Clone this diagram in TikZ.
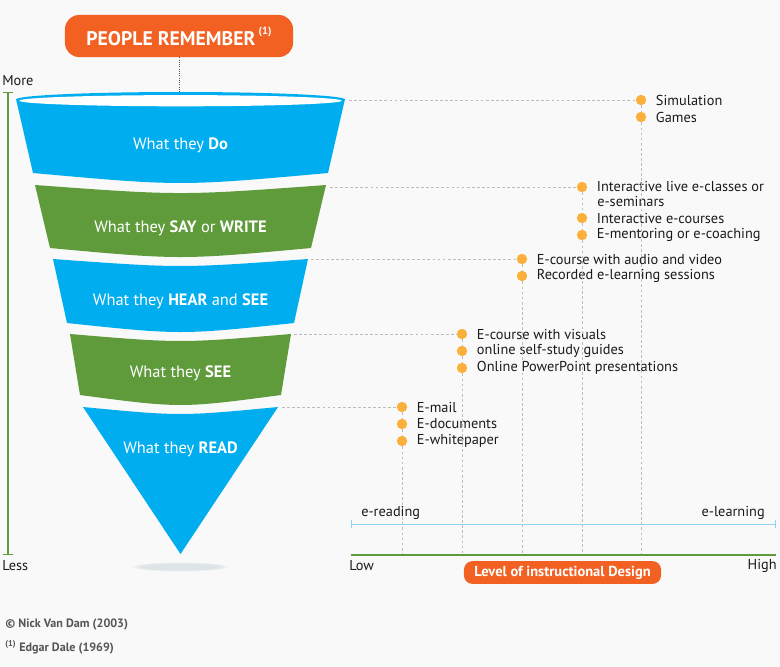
\documentclass[tikz,border=0pt]{standalone}
\usepackage{fontspec}
\setmainfont{PT Sans}
\usetikzlibrary{arrows.meta,positioning,calc}
\definecolor{sky}{HTML}{00AEEF}
\definecolor{leaf}{HTML}{5F9A3B}
\definecolor{flame}{HTML}{F26122}
\definecolor{amber}{HTML}{FBB03B}
\definecolor{guide}{HTML}{BDBDBD}
\definecolor{paper}{HTML}{F9F9F9}
\definecolor{mist}{HTML}{DCE3E6}
\definecolor{rule}{HTML}{8ED3F2}
\definecolor{ink}{HTML}{1A1A1A}
\definecolor{note}{HTML}{555555}

\begin{document}
\begin{tikzpicture}[x=.025cm,y=-.025cm,
  dot/.style={circle,fill=amber,inner sep=0pt,minimum size=.26cm},
  item/.style={anchor=west,inner sep=0pt,text=ink,font=\fontsize{10.2}{12}\selectfont},
  lbl/.style={text=white,inner sep=0pt,font=\fontsize{11.7}{14}\selectfont},
  gd/.style={guide,line width=.5pt,dash pattern=on 2pt off 1.6pt},
  foot/.style={anchor=west,inner sep=0pt,text=note,font=\bfseries\fontsize{8.6}{10}\selectfont}]
\path[use as bounding box,fill=paper] (0,0) rectangle (780,666);
\node[fill=flame,rounded corners=10pt,minimum width=5.7cm,minimum height=1.05cm,text=white,font=\bfseries\fontsize{14}{16}\selectfont] (title) at (179,36) {PEOPLE REMEMBER\,\raisebox{1.1ex}{\fontsize{7.5}{8}\selectfont(1)}};
\coordinate (rim) at (179,102);
\draw[densely dotted,note,line width=.6pt] (title) -- (rim);
\foreach \r/\o in {1.2/.3,1.1/.5,1/.7}{\fill[mist,opacity=\o] (180.5,567) ellipse [x radius=\r cm,y radius=.09*\r cm];}
\fill[sky] (16,99) -- (33,173) .. controls (180.5,186.3) .. (328,173) -- (345,99) -- cycle;
\fill[sky] (180.5,99.5) ellipse [x radius=4.1125cm,y radius=.1875cm];
\fill[white] (180.5,100.7) ellipse [x radius=4.03cm,y radius=.14cm];
\fill[leaf] (35,185) .. controls (180.5,195.7) .. (326,185) -- (311,248) .. controls (180.5,260) .. (50,248) -- cycle;
\fill[sky] (53,259) .. controls (180.5,268.3) .. (308,259) -- (294,323) .. controls (180.5,335) .. (67,323) -- cycle;
\fill[leaf] (70,334) .. controls (180.5,343.3) .. (291,334) -- (281,395) .. controls (180.5,408.3) .. (80,395) -- cycle;
\fill[sky] (83,407) .. controls (180.5,416.3) .. (278,407) -- (180.5,554) -- cycle;
\node[lbl] (do) at (180.5,145) {What they \textbf{Do}};
\node[lbl] (say) at (180.5,228) {What they \textbf{SAY} or \textbf{WRITE}};
\node[lbl] (hear) at (180.5,301) {What they \textbf{HEAR} and \textbf{SEE}};
\node[lbl] (see) at (180.5,373) {What they \textbf{SEE}};
\node[lbl] (read) at (180.5,449) {What they \textbf{READ}};
\foreach \n/\x/\y/\t in {s1/641/100/Simulation,s2/641/117/Games,
  i1/582/187/Interactive live e-classes or,i2/582/218/Interactive e-courses,i3/582/235/E-mentoring or e-coaching,
  a1/522/259/E-course with audio and video,a2/522/276/Recorded e-learning sessions,
  v1/462/334/E-course with visuals,v2/462/351/online self-study guides,v3/462/368/Online PowerPoint presentations,
  r1/402/407/E-mail,r2/402/424/E-documents,r3/402/441/E-whitepaper}
  {\node[dot] (\n) at (\x,\y) {};
   \node[item,right=.23cm of \n] (t\n) {\t};}
\node[item] (ti1b) at (597,202) {e-seminars};
\foreach \n/\x/\y in {1/349/100,2/330/187,3/311/259,4/294/334,5/282/407}{\coordinate (c\n) at (\x,\y);}
\foreach \n/\x in {1/641,2/582,3/522,4/462,5/402}{\coordinate (b\n) at (\x,555);}
\draw[gd] (c1) -- (s1);
\draw[gd] (c2) -- (i1);
\draw[gd] (c3) -- (a1);
\draw[gd] (c4) -- (v1);
\draw[gd] (c5) -- (r1);
\draw[gd] (s1) -- (s2) -- (b1);
\draw[gd] (i1) -- (i2) -- (i3) -- (b2);
\draw[gd] (a1) -- (a2) -- (b3);
\draw[gd] (v1) -- (v2) -- (v3) -- (b4);
\draw[gd] (r1) -- (r2) -- (r3) -- (b5);
\coordinate (top) at (8,92);
\coordinate (bot) at (8,555);
\draw[leaf,line width=.9pt,{Bar[width=7pt]}-{Bar[width=7pt]}] (top) -- (bot);
\node[item] (more) at (2,81) {More};
\node[item] (less) at (2,566) {Less};
\coordinate (el) at (351,524);
\coordinate (eh) at (776,524);
\draw[rule,line width=.7pt,{Bar[width=6pt]}-{Bar[width=6pt]}] (el) -- (eh);
\node[item] (eread) at (361,513) {e-reading};
\node[item,anchor=east] (elearn) at (765,513) {e-learning};
\coordinate (lo) at (351,555);
\coordinate (hi) at (776,555);
\draw[leaf,line width=.9pt] (lo) -- (hi);
\node[item] (low) at (349,566) {Low};
\node[item,anchor=east] (high) at (777,566) {High};
\node[fill=flame,rounded corners=6pt,minimum width=4.925cm,minimum height=.525cm,text=white,font=\bfseries\fontsize{10.3}{12}\selectfont] (level) at (562.5,572.5) {Level of instructional Design};
\node[foot] (copy) at (5,624) {© Nick Van Dam (2003)};
\node[foot] (src) at (5,647) {\textsuperscript{(1)} Edgar Dale (1969)};
\end{tikzpicture}
\end{document}
